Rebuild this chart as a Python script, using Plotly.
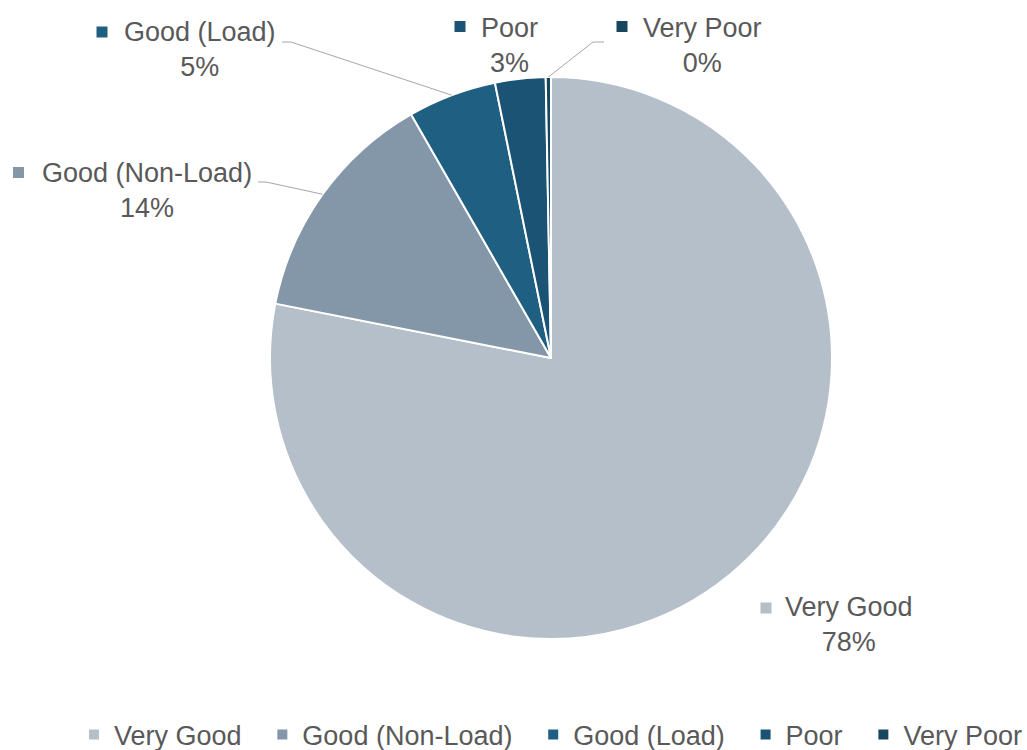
import math
import plotly.graph_objects as go

# ---- data ----
categories = ["Very Good", "Good (Non-Load)", "Good (Load)", "Poor", "Very Poor"]
values = [78.1, 13.6, 5.1, 2.9, 0.3]
colors = ["#b4bfc9", "#8497a9", "#1f5f82", "#1a5373", "#17465f"]

# ---- layout constants (pixels) ----
W, H = 1027, 750
CX, CY, R = 551, 358, 281
FONT = "Liberation Sans, Arial, sans-serif"
TXT = "#595959"
FS = 27
KEY = 11  # size of the small colour key square beside each data label

# label placement: (text center x, text center y, key center x, key center y)
label_pos = {
    "Very Good": (849, 624, 766, 608),
    "Good (Non-Load)": (147, 191, 18.5, 172.5),
    "Good (Load)": (200, 50, 102, 32),
    "Poor": (509, 45, 460, 26.5),
    "Very Poor": (702, 45, 622, 26.5),
}
# leader-line elbows (pixels), the slice edge point is computed from data
leaders = {
    "Good (Non-Load)": [(258, 182), (266, 182)],
    "Good (Load)": [(282, 42), (291, 42)],
    "Very Poor": [(604, 42), (593, 42)],
}

def px(x):
    return x / W

def py(y):
    return 1 - y / H

# legend entries padded so the entry spacing matches the reference
legend_labels = [c + ("\u2002\u200a" if i < len(categories) - 1 else "")
                 for i, c in enumerate(categories)]

fig = go.Figure(
    go.Pie(
        labels=legend_labels,
        values=values,
        marker=dict(colors=colors, line=dict(color="white", width=2)),
        sort=False,
        direction="clockwise",
        rotation=0,
        textinfo="none",
        domain=dict(x=[px(CX - R), px(CX + R)], y=[py(CY + R), py(CY - R)]),
    )
)

total = sum(values)
cum = 0
annotations = []
shapes = []
for cat, val, col in zip(categories, values, colors):
    mid = (cum + val / 2) / total * 2 * math.pi
    cum += val
    ex = CX + R * math.sin(mid)
    ey = CY - R * math.cos(mid)
    tx, ty, kx, ky = label_pos[cat]
    annotations.append(dict(
        x=px(tx), y=py(ty), xref="paper", yref="paper", showarrow=False,
        xanchor="center", yanchor="middle", align="center",
        text=f"{cat}<br>{round(val / total * 100)}%",
        font=dict(family=FONT, size=FS, color=TXT),
    ))
    shapes.append(dict(type="rect", xref="paper", yref="paper",
                       x0=px(kx - KEY / 2), x1=px(kx + KEY / 2),
                       y0=py(ky + KEY / 2), y1=py(ky - KEY / 2),
                       fillcolor=col, line=dict(width=0)))
    if cat in leaders:
        pts = leaders[cat] + [(ex, ey)]
        path = "M " + " L ".join(f"{px(x)},{py(y)}" for x, y in pts)
        shapes.append(dict(type="path", path=path, xref="paper", yref="paper",
                           line=dict(color="#a6a6a6", width=1)))

fig.update_layout(
    width=W, height=H,
    margin=dict(l=0, r=0, t=0, b=0, autoexpand=False),
    paper_bgcolor="white", plot_bgcolor="white",
    font=dict(family=FONT, size=FS, color=TXT),
    showlegend=True,
    legend=dict(orientation="h", x=px(74), xanchor="left", y=py(735), yanchor="middle",
                font=dict(family=FONT, size=FS, color=TXT), itemclick=False),
    annotations=annotations,
    shapes=shapes,
)

fig.write_html("out.html", config={"displayModeBar": False},
               post_script="document.body.style.margin='0';")
